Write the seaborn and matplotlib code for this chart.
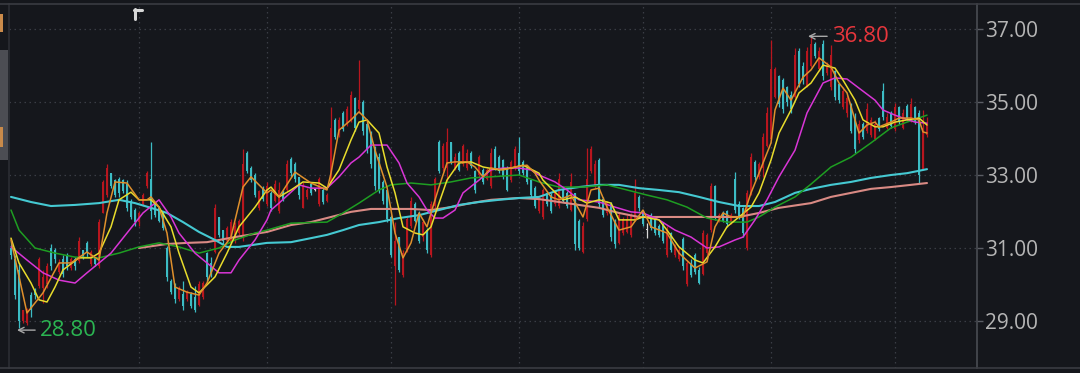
import numpy as np
import pandas as pd
import matplotlib.pyplot as plt
from matplotlib.lines import Line2D
from matplotlib.patches import Rectangle
import seaborn as sns

# daily candles (day index 0..229)
opens = [31.0, 30.7, 30.4, 29.0, 28.95, 29.7, 29.85, 29.95, 29.9, 30.0,
         31.0, 30.95, 30.35, 30.7, 30.8, 30.45, 30.7, 30.65, 30.95, 31.15,
         30.55, 30.75, 30.5, 31.95, 32.45, 33.05, 32.85, 32.9, 32.85, 32.75,
         32.3, 32.05, 31.7, 32.2, 32.7, 32.9, 32.2, 32.1, 31.95, 31.0,
         30.1, 30.0, 29.6, 29.75, 29.6, 29.75, 29.65, 29.45, 29.65, 30.85,
         30.6, 30.9, 31.85, 31.5, 31.2, 31.15, 31.3, 31.4, 31.3, 33.6,
         33.2, 33.0, 32.1, 32.65, 32.2, 32.5, 32.3, 32.0, 32.55, 32.6,
         33.45, 33.3, 32.95, 32.1, 32.4, 32.75, 32.6, 32.2, 32.6, 32.3,
         32.8, 34.5, 34.1, 34.7, 34.4, 34.5, 35.1, 34.8, 35.0, 34.4,
         34.15, 33.7, 33.5, 32.8, 32.6, 31.85, 30.5, 31.3, 30.25, 30.95,
         31.6, 32.2, 31.95, 31.3, 31.5, 30.8, 32.15, 33.9, 33.2, 33.2,
         33.9, 33.2, 33.6, 33.3, 33.2, 33.6, 33.1, 33.0, 33.15, 32.9,
         32.7, 33.7, 33.5, 33.4, 33.2, 32.85, 33.2, 33.6, 33.35, 33.2,
         32.85, 32.65, 32.0, 31.85, 32.5, 32.45, 32.2, 32.15, 32.6, 32.5,
         32.05, 32.5, 31.75, 30.9, 31.8, 33.1, 32.7, 33.4, 32.35, 31.95,
         32.2, 31.7, 31.15, 31.4, 31.45, 31.35, 31.8, 32.4, 32.0, 31.5,
         31.9, 31.8, 31.6, 31.65, 30.8, 31.4, 30.8, 30.7, 31.25, 30.0,
         30.6, 30.8, 30.4, 30.3, 30.85, 31.5, 32.7, 31.75, 31.95, 32.0,
         31.7, 32.9, 32.2, 32.1, 31.0, 32.5, 33.35, 32.95, 33.2, 33.8,
         34.0, 35.15, 35.7, 35.6, 35.4, 35.2, 35.15, 36.4, 36.0, 35.4,
         36.0, 36.6, 35.9, 36.6, 35.8, 35.4, 35.85, 35.5, 34.85, 34.7,
         34.95, 34.6, 33.95, 34.4, 34.2, 34.1, 34.0, 34.55, 35.3, 34.3,
         34.7, 34.25, 34.85, 34.3, 34.9, 34.5, 34.85, 34.7, 33.15, 34.1]
highs = [31.2, 30.8, 30.6, 29.3, 29.35, 29.8, 29.9, 30.75, 30.4, 30.6,
         31.1, 31.0, 30.7, 30.8, 30.85, 30.75, 30.75, 31.3, 30.95, 31.2,
         30.95, 30.75, 31.8, 32.85, 33.3, 33.05, 32.9, 32.95, 32.9, 32.85,
         32.35, 32.1, 32.0, 32.5, 33.1, 33.9, 32.25, 32.15, 32.0, 31.05,
         30.15, 30.05, 29.95, 30.1, 29.85, 29.8, 29.95, 30.1, 30.1, 30.9,
         30.75, 32.2, 31.85, 31.5, 31.6, 31.8, 31.7, 31.8, 33.7, 33.65,
         33.25, 33.05, 32.6, 32.7, 32.8, 32.55, 32.85, 32.8, 32.6, 33.4,
         33.5, 33.35, 32.95, 32.8, 32.65, 32.8, 32.65, 32.95, 32.65, 32.5,
         34.85, 34.55, 34.6, 34.75, 34.9, 35.3, 35.15, 36.15, 35.05, 34.45,
         34.2, 33.8, 33.6, 32.85, 32.6, 31.9, 31.7, 31.3, 30.95, 31.85,
         32.4, 32.25, 32.0, 31.8, 31.55, 32.3, 32.95, 33.96, 33.88, 34.3,
         33.9, 33.6, 33.65, 33.85, 33.7, 33.65, 33.15, 33.55, 33.2, 33.2,
         33.75, 33.8, 33.55, 33.45, 33.25, 33.4, 33.8, 34.05, 33.4, 33.25,
         32.9, 32.7, 32.4, 32.65, 32.55, 32.5, 32.6, 33.05, 32.65, 32.55,
         33.05, 32.5, 31.8, 31.7, 33.75, 33.8, 33.4, 33.47, 32.4, 32.3,
         32.25, 31.8, 31.95, 31.85, 31.9, 31.96, 32.9, 32.45, 32.05, 31.68,
         31.95, 31.85, 31.65, 31.7, 31.6, 31.45, 31.1, 31.05, 31.3, 30.67,
         30.7, 30.86, 30.48, 31.5, 31.4, 32.78, 32.73, 31.95, 32.0, 32.04,
         31.95, 33.08, 32.3, 32.12, 32.6, 33.6, 33.4, 33.35, 34.15, 34.85,
         36.7, 35.96, 35.75, 35.66, 35.45, 35.3, 36.48, 36.48, 36.1, 36.5,
         36.8, 36.64, 36.5, 36.7, 36.1, 36.56, 35.88, 35.52, 35.4, 35.2,
         34.97, 34.7, 34.5, 34.45, 34.97, 34.6, 34.5, 34.6, 35.52, 34.7,
         34.75, 34.97, 34.9, 34.8, 34.95, 35.1, 34.9, 34.78, 34.78, 34.6]
lows = [30.7, 29.6, 28.8, 28.95, 28.9, 29.1, 29.6, 29.9, 29.5, 29.9,
        30.4, 30.6, 30.3, 30.2, 30.4, 30.4, 30.4, 30.6, 30.7, 30.75,
        30.5, 30.5, 30.45, 31.95, 32.4, 32.65, 32.4, 32.4, 32.5, 32.0,
        31.8, 31.6, 31.6, 32.15, 32.65, 31.8, 31.85, 31.7, 31.5, 30.1,
        29.75, 29.5, 29.55, 29.3, 29.55, 29.35, 29.25, 29.4, 29.6, 30.1,
        30.2, 30.85, 31.3, 31.1, 31.15, 31.1, 31.15, 31.35, 31.2, 33.05,
        32.8, 32.4, 32.05, 32.3, 32.15, 32.0, 32.25, 31.95, 32.3, 32.55,
        32.95, 32.8, 32.35, 32.1, 32.35, 32.45, 32.55, 32.15, 32.2, 32.25,
        32.75, 34.0, 34.05, 34.2, 34.35, 34.45, 34.2, 34.7, 34.1, 33.6,
        33.2, 32.6, 32.5, 32.2, 31.7, 30.75, 29.45, 30.35, 30.2, 30.9,
        31.55, 31.7, 31.15, 31.2, 30.85, 30.75, 32.1, 33.05, 33.1, 32.8,
        33.3, 33.15, 33.1, 33.25, 33.15, 33.2, 32.5, 32.95, 32.75, 32.85,
        32.65, 33.15, 33.05, 32.9, 32.55, 32.8, 33.15, 33.0, 33.0, 32.75,
        32.4, 32.1, 31.95, 31.8, 32.15, 31.95, 32.15, 32.1, 32.25, 32.1,
        32.0, 30.95, 30.95, 30.85, 31.75, 33.05, 32.65, 32.1, 31.85, 31.9,
        31.2, 31.0, 31.1, 31.35, 31.4, 31.3, 31.75, 32.0, 31.6, 31.27,
        31.5, 31.35, 31.3, 31.15, 30.75, 30.9, 30.75, 30.65, 30.4, 29.95,
        30.2, 30.3, 30.0, 30.25, 30.8, 31.45, 31.77, 31.7, 31.7, 31.58,
        31.65, 31.96, 31.8, 31.3, 30.95, 32.45, 32.86, 32.9, 32.95, 33.77,
        33.96, 35.1, 34.86, 34.7, 34.9, 34.7, 35.1, 35.4, 35.5, 35.4,
        35.96, 36.2, 35.85, 35.6, 35.75, 35.33, 35.05, 34.97, 34.8, 34.6,
        34.15, 33.6, 33.88, 34.0, 34.15, 34.05, 33.95, 34.2, 34.5, 34.25,
        34.3, 34.2, 34.4, 34.25, 34.5, 34.45, 34.4, 32.78, 33.14, 34.05]
closes = [30.8, 29.7, 29.0, 29.3, 29.25, 29.3, 29.7, 30.7, 30.2, 30.5,
          30.5, 30.7, 30.6, 30.3, 30.5, 30.7, 30.5, 31.2, 30.75, 30.85,
          30.9, 30.55, 31.7, 32.8, 33.2, 32.7, 32.45, 32.5, 32.55, 32.1,
          31.85, 31.7, 31.95, 32.45, 33.05, 32.0, 31.9, 31.75, 31.55, 30.2,
          29.8, 29.6, 29.9, 29.4, 29.8, 29.4, 29.3, 30.0, 30.05, 30.2,
          30.3, 32.1, 31.35, 31.2, 31.55, 31.7, 31.6, 31.75, 33.3, 33.1,
          32.85, 32.45, 32.55, 32.35, 32.7, 32.1, 32.75, 32.6, 32.35, 33.3,
          33.05, 32.9, 32.45, 32.7, 32.6, 32.5, 32.6, 32.9, 32.25, 32.45,
          34.3, 34.05, 34.5, 34.25, 34.8, 35.2, 34.3, 35.05, 34.2, 33.7,
          33.3, 32.7, 32.6, 32.3, 31.8, 30.8, 31.2, 30.4, 30.85, 31.8,
          32.3, 31.75, 31.2, 31.7, 30.95, 32.2, 32.9, 33.1, 33.8, 33.9,
          33.35, 33.5, 33.15, 33.8, 33.6, 33.25, 32.6, 33.5, 32.8, 33.15,
          33.6, 33.2, 33.1, 32.95, 32.6, 33.35, 33.7, 33.1, 33.05, 32.8,
          32.45, 32.15, 32.35, 32.6, 32.2, 32.0, 32.55, 32.9, 32.3, 32.15,
          32.8, 31.1, 31.0, 31.6, 32.9, 33.7, 33.3, 32.2, 31.9, 32.25,
          31.3, 31.1, 31.9, 31.8, 31.8, 31.9, 32.5, 32.1, 31.65, 31.5,
          31.55, 31.4, 31.35, 31.2, 31.5, 30.95, 31.05, 30.95, 30.5, 30.6,
          30.25, 30.35, 30.05, 31.4, 31.35, 32.7, 31.85, 31.9, 31.75, 31.65,
          31.9, 32.05, 31.85, 31.4, 32.5, 33.5, 32.95, 33.3, 34.05, 34.7,
          35.9, 35.9, 34.95, 34.8, 35.0, 34.8, 36.3, 35.5, 35.6, 36.4,
          36.6, 36.25, 36.4, 35.7, 36.0, 36.3, 35.15, 35.05, 35.3, 35.1,
          34.2, 33.7, 34.4, 34.05, 34.8, 34.5, 34.4, 34.25, 34.6, 34.6,
          34.35, 34.85, 34.45, 34.7, 34.55, 34.95, 34.45, 33.0, 34.3, 34.4]

# moving average lines (day, value)
ma5_day = [0, 4, 8, 12, 15, 19, 22, 24, 26, 29, 32, 34, 35, 37, 39, 41, 44, 47, 49, 52,
           55, 58, 60, 64, 65, 67, 71, 75, 79, 80, 82, 85, 87, 89, 91, 94, 96, 98, 100, 102,
           104, 105, 107, 109, 111, 114, 116, 118, 120, 123, 126, 129, 131, 132, 135, 137, 140, 143, 145, 147,
           149, 152, 155, 158, 160, 164, 167, 171, 174, 176, 178, 180, 183, 185, 187, 190, 191, 193, 195, 198,
           200, 202, 205, 207, 209, 211, 212, 214, 216, 217, 220, 222, 225, 227, 228, 229]
ma5 = [31.22, 29.22, 29.77, 30.59, 30.59, 30.89, 30.67, 31.96, 32.81, 32.78, 32.32, 32.32, 32.40, 32.12, 31.41, 29.93, 29.79, 29.71, 30.04, 30.86,
       31.30, 32.67, 32.95, 32.51, 32.59, 32.40, 33.08, 32.78, 32.59, 33.05, 34.23, 34.51, 34.73, 34.51, 33.68, 32.67, 31.41, 30.73, 31.14, 31.96,
       31.58, 31.96, 32.67, 33.33, 33.36, 33.36, 33.22, 32.95, 33.19, 33.14, 33.22, 33.27, 33.05, 32.86, 32.40, 32.32, 32.45, 31.85, 32.59, 32.64,
       32.12, 31.49, 31.58, 32.04, 31.58, 31.41, 30.86, 30.45, 30.62, 31.58, 31.96, 31.85, 31.85, 32.51, 33.05, 33.88, 34.78, 35.38, 35.05, 35.68,
       35.88, 36.21, 35.96, 35.52, 35.25, 34.51, 34.15, 34.37, 34.45, 34.32, 34.45, 34.56, 34.56, 34.51, 34.18, 34.15]

ma10_day = [0, 2, 5, 7, 9, 11, 13, 17, 20, 22, 25, 27, 30, 32, 35, 37, 40, 42, 45, 47,
            51, 54, 57, 61, 64, 65, 67, 70, 73, 77, 79, 82, 85, 87, 89, 92, 94, 96, 98, 101,
            103, 105, 107, 109, 112, 115, 118, 122, 125, 128, 132, 133, 136, 138, 141, 144, 147, 150, 152, 156,
            158, 162, 164, 167, 171, 173, 176, 179, 182, 185, 187, 190, 192, 195, 197, 200, 203, 206, 208, 211,
            213, 216, 218, 221, 224, 227, 229]
ma10 = [31.27, 30.59, 30.04, 29.58, 29.52, 29.93, 30.40, 30.73, 30.73, 30.86, 31.58, 32.32, 32.53, 32.32, 32.32, 32.12, 31.58, 30.86, 29.93, 29.77,
        30.21, 30.86, 31.58, 32.12, 32.59, 32.67, 32.40, 32.59, 32.81, 32.78, 32.64, 33.14, 33.96, 34.45, 34.51, 34.15, 33.22, 32.51, 31.58, 31.41,
        31.36, 31.58, 32.23, 32.86, 33.33, 33.36, 33.22, 33.14, 33.19, 33.27, 33.05, 32.86, 32.53, 32.32, 32.40, 32.23, 32.32, 32.23, 31.77, 31.77,
        31.85, 31.77, 31.49, 31.03, 30.67, 30.59, 31.03, 31.58, 31.85, 32.12, 32.51, 33.41, 34.15, 34.78, 35.25, 35.52, 36.01, 35.93, 35.60, 35.05,
        34.51, 34.32, 34.32, 34.45, 34.51, 34.56, 34.37]

ma20_day = [0, 4, 8, 12, 16, 19, 22, 25, 29, 33, 37, 40, 42, 46, 49, 52, 55, 57, 61, 64,
            65, 67, 72, 75, 79, 82, 85, 87, 90, 94, 97, 99, 102, 104, 106, 108, 111, 113, 117, 120,
            123, 127, 130, 132, 136, 139, 142, 147, 151, 155, 158, 162, 166, 170, 174, 177, 181, 183, 186, 189,
            192, 196, 199, 203, 206, 209, 212, 216, 218, 221, 223, 226, 229]
ma20 = [31.03, 30.67, 30.32, 30.12, 30.04, 30.32, 30.59, 30.86, 31.41, 31.96, 32.32, 31.85, 31.41, 30.86, 30.59, 30.32, 30.32, 30.67, 31.22, 31.77,
        32.04, 32.23, 32.73, 32.64, 32.64, 32.95, 33.33, 33.49, 33.82, 33.82, 33.33, 32.78, 32.40, 32.04, 31.82, 31.82, 32.04, 32.51, 32.86, 33.14,
        33.19, 33.19, 33.14, 33.00, 32.81, 32.59, 32.32, 32.26, 32.12, 31.99, 31.96, 31.77, 31.49, 31.30, 31.00, 31.03, 31.22, 31.30, 31.77, 32.32,
        32.95, 33.68, 34.70, 35.52, 35.66, 35.63, 35.38, 35.05, 34.78, 34.64, 34.56, 34.45, 34.42]

ma60_day = [0, 2, 6, 11, 16, 22, 27, 32, 37, 42, 47, 52, 56, 61, 64, 70, 79, 83, 87, 92,
            95, 100, 105, 110, 115, 120, 127, 132, 137, 143, 149, 154, 159, 164, 169, 174, 179, 184, 187, 191,
            196, 200, 205, 210, 215, 220, 224, 229]
ma60 = [32.04, 31.49, 31.00, 30.86, 30.75, 30.73, 30.86, 31.03, 31.14, 31.03, 30.86, 31.00, 31.22, 31.41, 31.49, 31.68, 31.71, 31.96, 32.23, 32.59,
        32.73, 32.78, 32.73, 32.81, 32.92, 32.95, 33.00, 32.81, 32.67, 32.67, 32.73, 32.59, 32.45, 32.32, 32.12, 31.82, 31.71, 31.71, 31.85, 32.12,
        32.40, 32.75, 33.22, 33.49, 33.88, 34.29, 34.45, 34.64]

ma120_day = [0, 5, 10, 16, 22, 27, 31, 35, 39, 43, 47, 51, 54, 57, 64, 70, 75, 79, 83, 87,
             92, 97, 102, 107, 112, 117, 122, 127, 132, 137, 142, 147, 152, 157, 162, 167, 172, 177, 182, 187,
             191, 196, 200, 205, 210, 215, 220, 224, 229]
ma120 = [32.40, 32.26, 32.15, 32.18, 32.23, 32.32, 32.23, 32.10, 31.96, 31.71, 31.44, 31.22, 31.03, 31.03, 31.14, 31.16, 31.27, 31.36, 31.49, 31.63,
         31.71, 31.82, 31.90, 32.04, 32.18, 32.26, 32.32, 32.37, 32.40, 32.59, 32.67, 32.73, 32.73, 32.64, 32.59, 32.53, 32.40, 32.26, 32.15, 32.15,
         32.26, 32.51, 32.62, 32.73, 32.81, 32.92, 33.00, 33.05, 33.16]

ma250_day = [32, 39, 44, 49, 56, 64, 70, 75, 80, 85, 90, 100, 105, 110, 115, 120, 127, 132, 137, 142,
             147, 152, 157, 167, 177, 182, 187, 192, 200, 205, 210, 215, 220, 225, 229]
ma250 = [31.00, 31.11, 31.14, 31.16, 31.30, 31.44, 31.63, 31.71, 31.85, 31.99, 32.07, 32.07, 32.04, 32.12, 32.23, 32.32, 32.37, 32.34, 32.26, 32.18,
         32.10, 31.96, 31.85, 31.85, 31.85, 31.85, 31.96, 32.10, 32.23, 32.40, 32.51, 32.62, 32.67, 32.73, 32.78]

price_ticks = [29.0, 31.0, 33.0, 35.0, 37.0]
month_starts = [32, 64, 95, 127, 158, 190, 221]
high_day, high_price = 200, 36.80
low_day, low_price = 2, 28.80

BG = '#15171c'
UP = '#b8161e'
DOWN = '#3cbcc4'
FLAT = '#d8d8d8'
GRID = '#3a3d45'

sns.set_theme(style='dark', rc={'axes.facecolor': BG, 'figure.facecolor': BG,
                                'savefig.facecolor': BG, 'axes.edgecolor': '#474a51'})
plt.rcParams['font.family'] = ['Open Sans', 'DejaVu Sans']

W, H = 1080, 373
fig = plt.figure(figsize=(W / 100, H / 100), dpi=100)
ax = fig.add_axes([8.5 / W, 5 / H, 968.5 / W, 364.5 / H])
ax.set_facecolor(BG)

df = pd.DataFrame({'o': opens, 'h': highs, 'l': lows, 'c': closes})
df['day'] = np.arange(len(df))
df['color'] = np.where(df.c > df.o, UP, np.where(df.c < df.o, DOWN, FLAT))
body_lo = np.minimum(df.o, df.c)
body_h = np.maximum(np.abs(df.c - df.o), 0.02)

ax.vlines(df.day, df.l, df.h, colors=df.color, lw=0.9, zorder=2)
ax.bar(df.day, body_h, bottom=body_lo, width=0.45, color=df.color, lw=0, zorder=2)

# moving averages
lines = [(ma250_day, ma250, '#d98a84', 1.5),
         (ma120_day, ma120, '#45c9d2', 1.5),
         (ma60_day, ma60, '#1e9e22', 1.1),
         (ma20_day, ma20, '#d935d6', 1.1),
         (ma10_day, ma10, '#e8dc2c', 1.1),
         (ma5_day, ma5, '#e0902c', 1.1)]
for d, v, col, lw in lines:
    sns.lineplot(x=d, y=v, color=col, lw=lw, ax=ax, estimator=None, zorder=3)

# high / low markers
ax.annotate(f'{high_price:.2f}', xy=(high_day - 0.75, high_price), xytext=(high_day + 5.2, high_price),
            color='#e8363c', fontsize=16, va='center', ha='left',
            arrowprops=dict(arrowstyle='->', color='#a8a8a8', lw=1, shrinkA=1, shrinkB=0, mutation_scale=10))
ax.annotate(f'{low_price:.2f}', xy=(low_day - 0.5, low_price - 0.05), xytext=(low_day + 5.2, low_price - 0.05),
            color='#2bb552', fontsize=16, va='center', ha='left',
            arrowprops=dict(arrowstyle='->', color='#a8a8a8', lw=1, shrinkA=1, shrinkB=0, mutation_scale=10))

ax.set_xlim(-0.625, 241.5)
ax.set_ylim(27.712, 37.699)
ax.set_xticks(month_starts)
ax.set_yticks(price_ticks)
ax.set_yticklabels([f'{t:.2f}' for t in price_ticks])
ax.yaxis.tick_right()
ax.tick_params(axis='x', length=0, labelbottom=False)
ax.tick_params(axis='y', length=4, width=1, color='#5a5d64', labelcolor='#b5b5b5',
               labelsize=15, pad=2, right=True, left=False)
ax.grid(True, color=GRID, linestyle=(0, (1.2, 2.8)), lw=0.9)
ax.set_xlabel('')
ax.set_ylabel('')
for side in ['top', 'bottom']:
    ax.spines[side].set_visible(False)
ax.spines['left'].set_color('#2a2c32')
ax.spines['right'].set_color('#474a51')

# frame lines across the full width, left tool strip and corner mark
for y in (3.5, 368):
    fig.add_artist(Line2D([0, 1], [1 - y / H, 1 - y / H], color='#3a3c42', lw=1.2))
fig.add_artist(Rectangle((0, 1 - 160 / H), 8 / W, 110 / H, color='#4c4d53', lw=0))
fig.add_artist(Rectangle((0, 1 - 32 / H), 3 / W, 18 / H, color='#c98a4a', lw=0))
fig.add_artist(Rectangle((0, 1 - 147 / H), 3 / W, 20 / H, color='#c98a4a', lw=0))
fig.add_artist(Line2D([134.5 / W, 134.5 / W], [1 - 19 / H, 1 - 9 / H], color='#d8d8d8', lw=2.2))
fig.add_artist(Line2D([133.5 / W, 142 / W], [1 - 9.8 / H, 1 - 9.8 / H], color='#d8d8d8', lw=2.2))

fig.savefig('out.png', dpi=100, facecolor=BG)
